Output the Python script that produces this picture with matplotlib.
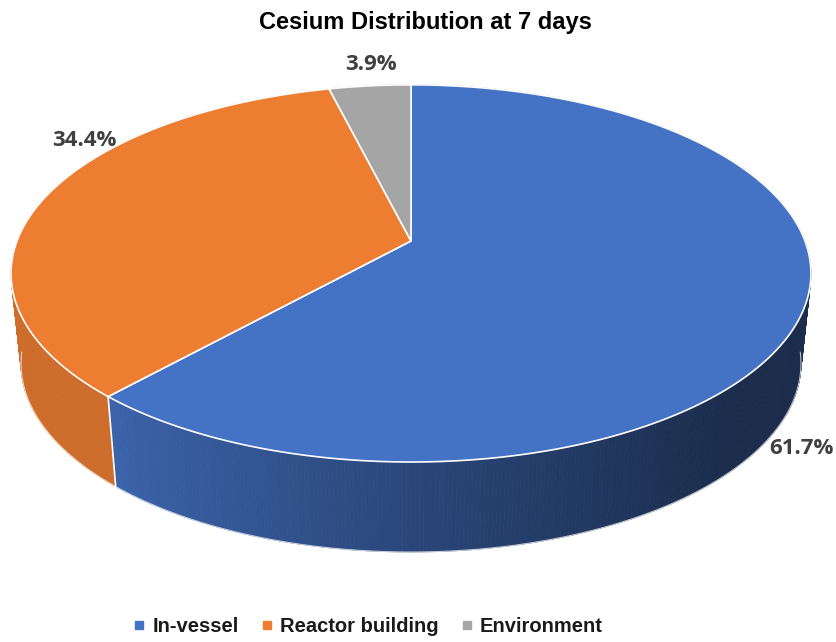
import numpy as np
import matplotlib
matplotlib.use("Agg")
import matplotlib.pyplot as plt
from matplotlib.patches import Polygon
from matplotlib.lines import Line2D

# Data
categories = ["In-vessel", "Reactor building", "Environment"]
shares = [61.7, 34.4, 3.9]
labels = ["61.7%", "34.4%", "3.9%"]
top_colors = ["#4472C4", "#ED7D31", "#A5A5A5"]

title = "Cesium Distribution at 7 days"

# Layout of the tilted pie (figure pixels)
W, H = 837, 642
cx, cy = 411, 241      # apex of the slices
rx, ry = 394, 183      # radii of the top face
k = 0.172              # perspective strength
depth = 90             # side wall height
shrink = 0.975         # bottom rim is a bit narrower (perspective)

fig = plt.figure(figsize=(W / 100, H / 100), dpi=100)
ax = fig.add_axes([0, 0, 1, 1])
ax.set_xlim(0, W)
ax.set_ylim(H, 0)
ax.axis("off")


def proj(theta):
    """theta in degrees, clockwise from 12 o'clock"""
    t = np.radians(theta)
    X, Y = np.sin(t), -np.cos(t)
    s = 1.0 / (1.0 - k * Y)
    return cx + rx * X * s, cy + ry * Y * s


def lower(x, y):
    return cx + (x - cx) * shrink, y + depth


def side_shade(x, base):
    # darker toward the right, like the Excel 3D gradient
    u = np.clip((x - 110) / 620.0, 0, 1)
    f = 0.87 - 0.48 * u ** 0.9
    rgb = np.array(matplotlib.colors.to_rgb(base))
    return tuple(np.clip(rgb * f, 0, 1))


bounds = np.concatenate([[0], np.cumsum(shares)]) / sum(shares) * 360

# side walls
for i, col in enumerate(top_colors):
    a0, a1 = bounds[i], bounds[i + 1]
    th = np.linspace(a0, a1, max(int((a1 - a0) * 2), 4))
    xs, ys = proj(th)
    bx, by = lower(xs, ys)
    for j in range(len(th) - 1):
        quad = [(xs[j], ys[j]), (xs[j + 1], ys[j + 1]),
                (bx[j + 1], by[j + 1]), (bx[j], by[j])]
        c = side_shade((xs[j] + xs[j + 1]) / 2, col)
        ax.add_patch(Polygon(quad, closed=True, facecolor=c, edgecolor=c, lw=0.6))

# light outline of the bottom rim and the slice seams on the side
th = np.linspace(0, 360, 721)
xs, ys = proj(th)
bx, by = lower(xs, ys)
front = (ys > cy + 20)
ax.plot(np.where(front, bx, np.nan), np.where(front, by, np.nan),
        color="white", lw=0.8, alpha=0.7)
for b in bounds[:-1]:
    x0, y0 = proj(b)
    if y0 > cy + 20:
        x1, y1 = lower(x0, y0)
        ax.plot([x0, x1], [y0, y1], color="white", lw=1.2)

# top faces
for i, col in enumerate(top_colors):
    a0, a1 = bounds[i], bounds[i + 1]
    th = np.linspace(a0, a1, 200)
    xs, ys = proj(th)
    pts = [(cx, cy)] + list(zip(xs, ys))
    ax.add_patch(Polygon(pts, closed=True, facecolor=col, edgecolor="white",
                         lw=1.2, joinstyle="round"))

# data labels
label_pos = [(801, 448), (84, 140), (371, 65)]
for (lx, ly), txt in zip(label_pos, labels):
    ax.text(lx, ly, txt, ha="center", va="center", fontsize=16,
            fontweight="bold", color="#404040", family="Open Sans")

ax.text(425, 22, title, ha="center", va="center", fontsize=17,
        fontweight="bold", color="black", family="Liberation Sans")

handles = [Line2D([], [], marker="s", ls="", markersize=6, color=c) for c in top_colors]
leg = fig.legend(handles, categories, loc="center", bbox_to_anchor=(368 / W, 1 - 627 / H),
                 ncol=3, frameon=False, handlelength=0.6, handletextpad=0.35,
                 columnspacing=1.1,
                 prop={"family": "Liberation Sans", "weight": "bold", "size": 14.5})
for t in leg.get_texts():
    t.set_color("#1a1a1a")

fig.savefig("out.png", dpi=100, facecolor="white")
